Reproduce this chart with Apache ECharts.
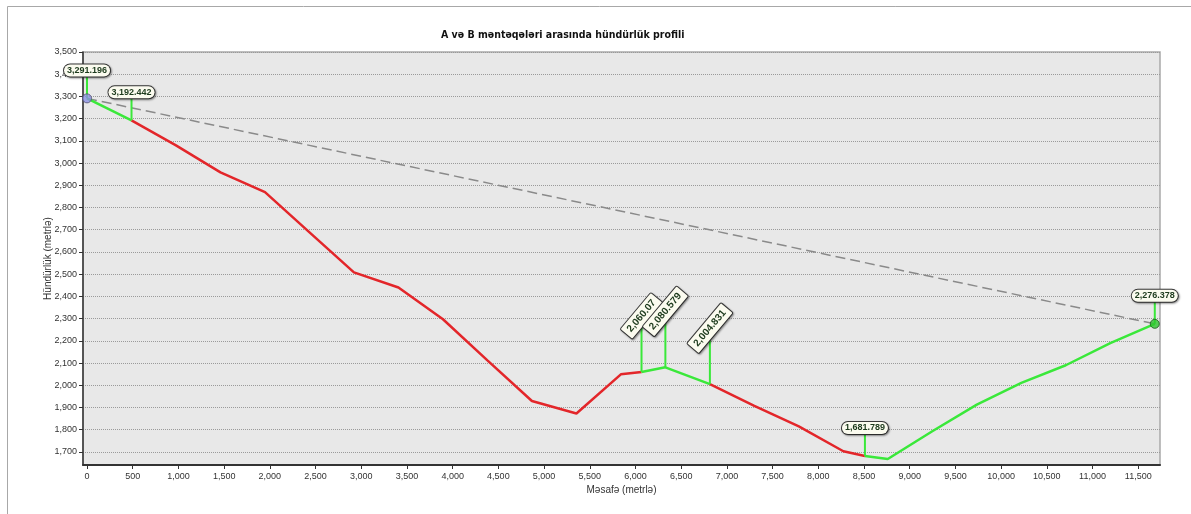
<!DOCTYPE html>
<html>
<head>
<meta charset="utf-8">
<script src="https://cdn.jsdelivr.net/npm/echarts@6/dist/echarts.min.js"></script>
<style>
  html, body { margin: 0; padding: 0; background: #ffffff; }
  #chart { width: 1191px; height: 514px; }
</style>
</head>
<body>
<div id="chart"></div>
<script>
// ---- data ----
const titleText = 'A və B məntəqələri arasında hündürlük profili';
const xAxisName = 'Məsafə (metrlə)';
const yAxisName = 'Hündürlük (metrlə)';

const distances = [0, 486.7, 973, 1460, 1947, 2434, 2920, 3407, 3894, 4380, 4867, 5354, 5840, 6066, 6327, 6814, 7300, 7787, 8274, 8510, 8760, 9247, 9734, 10221, 10707, 11194, 11681];
const elevations = [3291.196, 3192.442, 3080, 2958, 2869, 2688, 2508, 2440, 2297, 2112, 1929, 1873, 2049, 2060.07, 2080.579, 2004.831, 1907, 1815, 1703, 1681.789, 1668, 1793, 1913, 2011, 2090, 2190, 2276.378];

// visible (green) / hidden (red) stretches along the profile
const segmentStarts = [0, 486.7, 6066, 6814, 8510];
const segmentEnds = [486.7, 6066, 6814, 8510, 11681];
const segmentVisible = [true, false, true, false, true];

// annotated points
const labelDist = [0, 486.7, 6066, 6327, 6814, 8510, 11681];
const labelElev = [3291.196, 3192.442, 2060.07, 2080.579, 2004.831, 1681.789, 2276.378];
const rotatedLabels = [2, 3, 4];

// axis ranges
const xMin = -44, xMax = 11738, xStep = 500;
const yMin = 1641, yMax = 3500, yStep = 100;

// ---- chart ----
const fontNarrow = "'Liberation Sans Narrow', 'DejaVu Sans Condensed', 'Liberation Sans', sans-serif";
const fontSans = "'Liberation Sans', Arial, sans-serif";
const fmt = v => v.toLocaleString('en-US', { maximumFractionDigits: 3 });

const profile = distances.map((d, i) => [d, elevations[i]]);

const segmentSeries = segmentStarts.map((s, k) => ({
  type: 'line',
  name: 'seg' + k,
  data: profile.filter(p => p[0] >= s && p[0] <= segmentEnds[k]),
  showSymbol: false,
  symbol: 'none',
  lineStyle: { color: segmentVisible[k] ? '#3ae83a' : '#e3262a', width: 2.5 },
  z: 4,
  animation: false,
  silent: true
}));

const first = profile[0];
const last = profile[profile.length - 1];

const chart = echarts.init(document.getElementById('chart'), null, { renderer: 'canvas' });

chart.setOption({
  animation: false,
  backgroundColor: '#ffffff',
  title: {
    text: titleText,
    left: 441,
    top: 30,
    padding: 0,
    textStyle: { fontFamily: fontNarrow, fontSize: 10.5, fontWeight: 'bold', color: '#111' }
  },
  graphic: [{
    type: 'rect',
    shape: { x: 7.5, y: 6.5, width: 1200, height: 530 },
    style: { fill: 'none', stroke: '#a8a8a8', lineWidth: 1 },
    silent: true,
    z: -10
  }],
  grid: {
    left: 83, right: 31, top: 52, bottom: 49,
    show: true,
    backgroundColor: '#e8e8e8',
    borderColor: '#a9a9a9',
    borderWidth: 1.5
  },
  xAxis: {
    type: 'value',
    min: xMin, max: xMax,
    minInterval: xStep, maxInterval: xStep, splitNumber: 24,
    name: xAxisName,
    nameLocation: 'middle',
    nameGap: 20,
    nameMoveOverlap: false,
    nameTextStyle: { fontFamily: fontSans, fontSize: 10, color: '#333' },
    axisLine: { show: true, onZero: false, lineStyle: { color: '#333', width: 2 } },
    axisTick: { show: true, length: 4, lineStyle: { color: '#333' } },
    axisLabel: {
      showMinLabel: false, showMaxLabel: false,
      fontFamily: fontSans, fontSize: 9, color: '#333', margin: 7,
      formatter: v => fmt(v)
    },
    splitLine: { show: false }
  },
  yAxis: {
    type: 'value',
    min: yMin, max: yMax,
    minInterval: yStep, maxInterval: yStep, splitNumber: 18,
    name: yAxisName,
    nameLocation: 'middle',
    nameGap: 30,
    nameMoveOverlap: false,
    nameTextStyle: { fontFamily: fontSans, fontSize: 10, color: '#333' },
    axisLine: { show: true, onZero: false, lineStyle: { color: '#333', width: 1.5 } },
    axisTick: { show: true, length: 4, lineStyle: { color: '#333' } },
    axisLabel: {
      showMinLabel: false,
      fontFamily: fontSans, fontSize: 9, color: '#333', margin: 6,
      formatter: v => fmt(v)
    },
    splitLine: { show: true, lineStyle: { color: '#9a9a9a', type: [1, 1], width: 1 } }
  },
  series: [
    {
      type: 'line',
      name: 'sightline',
      data: [first, last],
      symbol: 'none',
      lineStyle: { color: '#8a8a8a', width: 1.5, type: [10, 5] },
      z: 3,
      silent: true
    },
    ...segmentSeries,
    {
      type: 'custom',
      name: 'labels',
      data: labelDist.map((d, i) => [d, labelElev[i]]),
      clip: false,
      z: 6,
      silent: true,
      renderItem: function (params, api) {
        const i = params.dataIndex;
        const pt = api.coord([api.value(0), api.value(1)]);
        const rot = rotatedLabels.indexOf(i) >= 0;
        const len = rot ? 56 : 28;
        const cx = pt[0], cy = pt[1] - len;
        return {
          type: 'group',
          children: [
            {
              type: 'line',
              shape: { x1: pt[0], y1: pt[1], x2: cx, y2: cy },
              style: { stroke: '#3ae83a', lineWidth: 2 }
            },
            {
              type: 'text',
              x: cx, y: cy,
              rotation: rot ? 50 * Math.PI / 180 : 0,
              style: {
                text: fmt(labelElev[i]),
                x: 0, y: 0,
                align: 'center', verticalAlign: 'middle',
                font: (rot ? 'bold 10px ' : 'bold 9px ') + fontSans,
                fill: '#1c3a1c',
                backgroundColor: '#fbfbef',
                borderColor: '#3a3a3a',
                borderWidth: 1,
                borderRadius: rot ? 1 : 6,
                padding: rot ? [3, 4, 2, 4] : [2, 3, 1, 3],
                shadowColor: 'rgba(0,0,0,0.35)',
                shadowBlur: 2,
                shadowOffsetX: 1,
                shadowOffsetY: 1
              }
            }
          ]
        };
      }
    },
    {
      type: 'scatter',
      name: 'A',
      data: [first],
      symbol: 'circle',
      symbolSize: 9,
      itemStyle: { color: '#8c90e4', borderColor: '#505070', borderWidth: 1 },
      z: 7,
      silent: true
    },
    {
      type: 'scatter',
      name: 'B',
      data: [last],
      symbol: 'circle',
      symbolSize: 9,
      itemStyle: { color: '#2fc42f', borderColor: '#1b5a1b', borderWidth: 1 },
      z: 7,
      silent: true
    }
  ]
});
</script>
</body>
</html>
